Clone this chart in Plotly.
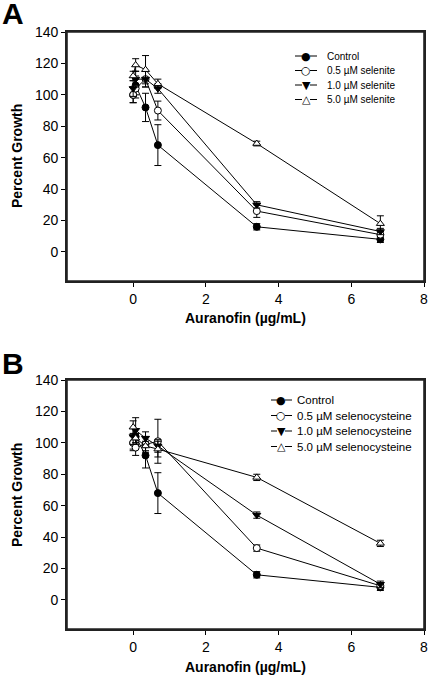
import plotly.graph_objects as go

# ---- data ----
auranofin = [0, 0.068, 0.34, 0.68, 3.4, 6.8]

series_names_A = ["Control", "0.5 \u00b5M selenite", "1.0 \u00b5M selenite", "5.0 \u00b5M selenite"]
values_A = [
    [100, 106, 92, 68, 16, 8],
    [100, 104, 110, 90, 26, 11],
    [104, 110, 110, 104, 30, 13],
    [112, 119, 116, 107, 69, 18],
]
errors_A = [
    [5, 6, 9, 13, 2, 2],
    [5, 6, 5, 6, 4, 2],
    [5, 5, 5, 3, 2, 2],
    [3, 4, 9, 3, 1.5, 5],
]

series_names_B = ["Control", "0.5 \u00b5M selenocysteine", "1.0 \u00b5M selenocysteine", "5.0 \u00b5M selenocysteine"]
values_B = [
    [100, 104, 92, 68, 16, 8],
    [100, 97, 99, 101, 33, 9],
    [104, 108, 103, 98, 54, 10],
    [110, 103, 98, 96, 78, 36],
]
errors_B = [
    [5, 5, 8, 13, 2, 2],
    [4, 5, 5, 14, 2, 1.5],
    [5, 8, 4, 4, 2, 2],
    [4, 3, 3, 5, 2, 2],
]

x_ticks = [0, 2, 4, 6, 8]
y_ticks = [0, 20, 40, 60, 80, 100, 120, 140]

# ---- styles ----
symbols = ["circle", "circle", "triangle-down", "triangle-up"]
fills = ["black", "white", "black", "white"]
glyphs = ["\u25cf", "\u25cb", "\u25bc", "\u25b3"]

W, H = 428, 682
FONT = "Liberation Sans, Arial, sans-serif"

def px(x):
    return x / W

def py(y):
    return 1 - y / H

fig = go.Figure()

def add_panel(names, vals, errs, xa, ya):
    for i, name in enumerate(names):
        fig.add_trace(go.Scatter(
            x=auranofin, y=vals[i], name=name, mode="lines+markers",
            xaxis=xa, yaxis=ya, showlegend=False,
            line=dict(color="black", width=1),
            marker=dict(symbol=symbols[i], size=7, color=fills[i],
                        line=dict(color="black", width=1)),
            error_y=dict(type="data", array=errs[i], color="black",
                         thickness=1, width=3.5),
        ))

add_panel(series_names_A, values_A, errors_A, "x", "y")
add_panel(series_names_B, values_B, errors_B, "x2", "y2")

FL, FR = 67, 424
FA = (32, 281)
FB = (380, 629)
xd = [px(FL), px(FR)]
ydA = [py(FA[1]), py(FA[0])]
ydB = [py(FB[1]), py(FB[0])]

axis_common = dict(showline=True, linecolor="#222222", linewidth=1.6, mirror=True,
                   ticks="outside", ticklen=4, tickcolor="black", tickwidth=1,
                   showgrid=False, zeroline=False, automargin=False,
                   ticklabeloverflow="allow",
                   tickfont=dict(family=FONT, size=14, color="black"))

annotations = []
shapes = []

def pline(x0, y0, x1, y1, w=1, color="black"):
    shapes.append(dict(type="line", xref="paper", yref="paper",
                       x0=px(x0), x1=px(x1), y0=py(y0), y1=py(y1),
                       line=dict(color=color, width=w)))

# plot frames (paper-referenced lines)
for top, bot in [FA, FB]:
    pline(FL, top, FR, top, 1.6, "#222222")
    pline(FL, bot, FR, bot, 1.6, "#222222")
    pline(FL, top, FL, bot, 1.6, "#222222")
    pline(FR, top, FR, bot, 1.6, "#222222")

def text_ann(text, x, y, size, xanchor="center", yanchor="middle", angle=0, family=FONT):
    annotations.append(dict(text=text, x=px(x), y=py(y), xref="paper", yref="paper",
                            xanchor=xanchor, yanchor=yanchor, showarrow=False,
                            textangle=angle, borderpad=0,
                            font=dict(family=family, size=size, color="black")))

# panel letters
text_ann("<b>A</b>", 1, 14, 30, xanchor="left")
text_ann("<b>B</b>", 1, 363, 30, xanchor="left")

# axis titles
for ytitle, xtitle in [(156, 318), (495, 667)]:
    text_ann("<b>Percent Growth</b>", 17, ytitle, 14, angle=-90)
    text_ann("<b>Auranofin (\u00b5g/mL)</b>", 245, xtitle, 14)

# manual legends
def legend(names, x0, x1, xm, xt, rows, fsize):
    for i, name in enumerate(names):
        y = rows[i]
        pline(x0, y, xm - 4, y)
        pline(xm + 4, y, x1, y)
        text_ann(glyphs[i], xm, y, 11, family="DejaVu Sans")
        text_ann(name, xt, y, fsize, xanchor="left")

legend(series_names_A, 295, 317, 306, 326, [56, 70.5, 85, 99.5], 10)
legend(series_names_B, 271, 292, 281, 296, [400, 415.5, 431, 446.5], 11.5)

fig.update_layout(
    width=W, height=H, margin=dict(l=0, r=0, t=0, b=0),
    paper_bgcolor="white", plot_bgcolor="white",
    font=dict(family=FONT, color="black"),
    showlegend=False,
    xaxis=dict(domain=xd, range=[-1.82, 8], tickvals=x_ticks, anchor="y", **axis_common),
    yaxis=dict(domain=ydA, range=[-18.5, 140], tickvals=y_ticks, anchor="x", **axis_common),
    xaxis2=dict(domain=xd, range=[-1.82, 8], tickvals=x_ticks, anchor="y2", **axis_common),
    yaxis2=dict(domain=ydB, range=[-18.5, 140], tickvals=y_ticks, anchor="x2", **axis_common),
    annotations=annotations,
    shapes=shapes,
)

fig.write_html("out.html", config={"displayModeBar": False},
               post_script="document.body.style.margin='0px';document.body.style.overflow='hidden';")
